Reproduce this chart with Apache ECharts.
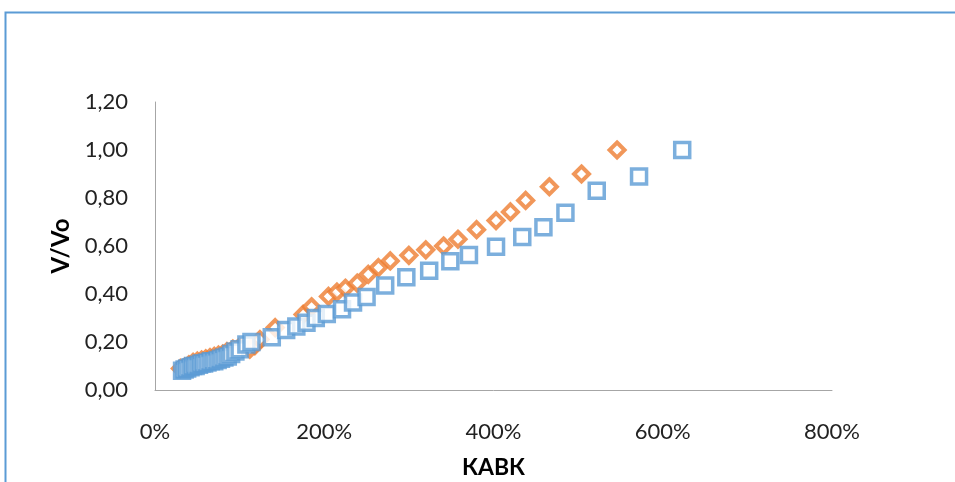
<!DOCTYPE html>
<html>
<head>
<meta charset="utf-8">
<script src="https://cdn.jsdelivr.net/npm/echarts@6/dist/echarts.min.js"></script>
<style>html,body{margin:0;padding:0;background:#fff}#c{width:955px;height:482px}</style>
</head>
<body>
<div id="c"></div>
<script>
// Series A (orange diamonds): x in %, y = V/Vo
const orangeX = [30, 35, 40, 45, 50, 55, 60, 65, 70, 75, 80, 85, 92, 100, 112, 118, 124, 142, 175, 185, 205, 215, 225, 239, 252, 264, 278, 300, 320, 341, 358, 380, 403, 420, 438, 466, 504, 546];
const orangeY = [0.09, 0.095, 0.105, 0.115, 0.12, 0.125, 0.13, 0.135, 0.14, 0.145, 0.15, 0.16, 0.17, 0.18, 0.17, 0.185, 0.21, 0.26, 0.315, 0.347, 0.39, 0.408, 0.424, 0.445, 0.482, 0.51, 0.538, 0.561, 0.584, 0.60, 0.628, 0.668, 0.706, 0.742, 0.79, 0.847, 0.90, 1.00];
// Series B (blue squares)
const blueX = [32, 35, 38, 42, 45, 48, 52, 55, 58, 62, 66, 70, 74, 78, 82, 86, 90, 95, 100, 108, 114, 138, 155, 167, 179, 190, 203, 221, 234, 250, 272, 297, 324, 349, 371, 403, 434, 459, 485, 522, 572, 623];
const blueY = [0.08, 0.085, 0.09, 0.095, 0.10, 0.10, 0.105, 0.11, 0.11, 0.115, 0.12, 0.12, 0.125, 0.13, 0.135, 0.14, 0.15, 0.16, 0.17, 0.19, 0.20, 0.22, 0.25, 0.265, 0.28, 0.30, 0.317, 0.336, 0.365, 0.387, 0.435, 0.47, 0.497, 0.536, 0.563, 0.597, 0.637, 0.678, 0.739, 0.83, 0.89, 1.00];
const xTicks = [0, 200, 400, 600, 800];
const yTicks = [0, 0.2, 0.4, 0.6, 0.8, 1.0, 1.2];

const zip = (xs, ys) => xs.map((x, i) => [x, ys[i]]);
const font = 'Lato, "Open Sans", sans-serif';
const chart = echarts.init(document.getElementById('c'));
chart.setOption({
  animation: false,
  backgroundColor: '#fff',
  graphic: [{
    type: 'rect', silent: true,
    shape: { x: 5.5, y: 12.5, width: 1200, height: 800 },
    style: { fill: 'none', stroke: '#5B9BD5', lineWidth: 2 }
  }],
  grid: { left: 155, right: 123, top: 102, bottom: 92, containLabel: false, outerBoundsMode: 'none' },
  xAxis: {
    type: 'value', min: xTicks[0], max: xTicks[xTicks.length - 1], interval: 200,
    name: 'КАВК', nameLocation: 'middle', nameGap: 66,
    nameTextStyle: { fontFamily: font, fontSize: 23, fontWeight: 'bold', color: '#000' },
    axisLine: { show: true, lineStyle: { color: '#a6a6a6', width: 1 } },
    axisTick: { show: false }, splitLine: { show: false },
    axisLabel: { fontFamily: font, fontSize: 22, color: '#222', margin: 31, formatter: v => v + '%' }
  },
  yAxis: {
    type: 'value', min: yTicks[0], max: yTicks[yTicks.length - 1], interval: 0.2,
    name: 'V/Vo', nameLocation: 'middle', nameGap: 82,
    nameTextStyle: { fontFamily: font, fontSize: 24, fontWeight: 'bold', color: '#000' },
    axisLine: { show: true, lineStyle: { color: '#a6a6a6', width: 1 } },
    axisTick: { show: false }, splitLine: { show: false },
    axisLabel: { fontFamily: font, fontSize: 22, color: '#222', margin: 27, formatter: v => v.toFixed(2).replace('.', ',') }
  },
  series: [
    {
      type: 'scatter', data: zip(orangeX, orangeY), symbol: 'diamond', symbolSize: 15,
      itemStyle: { color: '#fff', borderColor: '#ED7D31', borderWidth: 4 }
    },
    {
      type: 'scatter', data: zip(blueX, blueY), symbol: 'rect', symbolSize: 15,
      itemStyle: { color: '#fff', borderColor: '#5B9BD5', borderWidth: 3.5 }
    }
  ]
});
</script>
</body>
</html>
